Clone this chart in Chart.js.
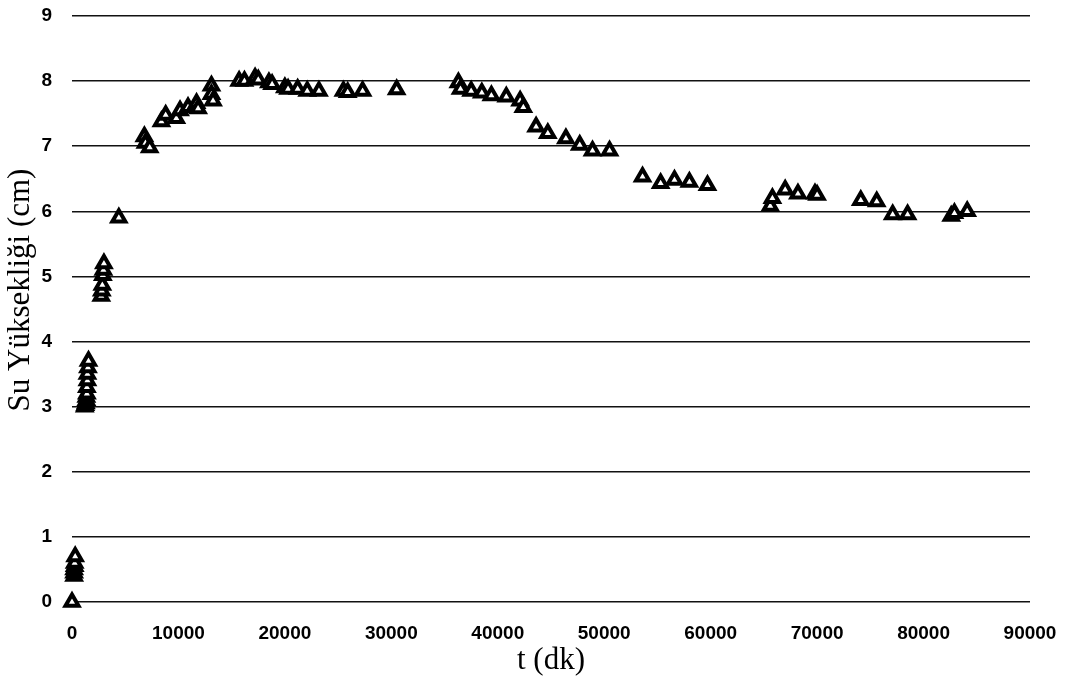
<!DOCTYPE html>
<html>
<head>
<meta charset="utf-8">
<script src="https://cdn.jsdelivr.net/npm/chart.js@4/dist/chart.umd.min.js"></script>
<style>
  html, body { margin: 0; padding: 0; background: #ffffff; }
  #wrap { width: 1075px; height: 690px; position: relative; }
</style>
</head>
<body>
<div id="wrap"><canvas id="c" width="1075" height="690"></canvas></div>
<script>
// time (minutes) and water height (cm)
const tValues = [
  0,
  200, 200, 200, 250, 250, 300,
  1200, 1250, 1300, 1350, 1350, 1400, 1400, 1450, 1450, 1500, 1550,
  2750, 2800, 2850, 2900, 2950, 3000,
  4400,
  6800, 6900, 7300,
  8400, 8800, 9800, 10150,
  10900, 11700, 11850,
  13100, 13100, 13250,
  15700, 16200, 17200, 17500, 18500, 18800, 20000, 20300, 21200, 22100, 23200,
  25500, 25900, 27300,
  30500,
  36300, 36500, 37500, 38500, 39400, 40800, 42100, 42400, 43600, 44700, 46400, 47700, 48900, 50500,
  53600, 55300, 56600, 58000, 59700,
  65600, 65800, 67000, 68200, 69800, 70000,
  74100, 75600, 77100, 78500, 82600, 82900, 84100
];
const hValues = [
  0.0,
  0.4, 0.45, 0.5, 0.55, 0.6, 0.7,
  3.0, 3.02, 3.05, 3.1, 3.15, 3.2, 3.3, 3.4, 3.5, 3.6, 3.7,
  4.7, 4.78, 4.87, 5.02, 5.1, 5.2,
  5.9,
  7.15, 7.05, 6.98,
  7.38, 7.48, 7.43, 7.55,
  7.6, 7.66, 7.58,
  7.93, 7.8, 7.7,
  8.0, 8.0, 8.05, 8.02, 7.98, 7.95, 7.9, 7.88, 7.88, 7.85, 7.85,
  7.85, 7.83, 7.85,
  7.87,
  7.98, 7.88, 7.85, 7.82, 7.78, 7.76, 7.7, 7.6, 7.3, 7.2, 7.12, 7.02, 6.93, 6.93,
  6.53, 6.43, 6.48, 6.45, 6.4,
  6.08, 6.2, 6.33, 6.27, 6.27, 6.25,
  6.17, 6.15, 5.95, 5.95, 5.93, 5.97, 6.0
];
const xTicks = [0, 10000, 20000, 30000, 40000, 50000, 60000, 70000, 80000, 90000];
const yTicks = [0, 1, 2, 3, 4, 5, 6, 7, 8, 9];
const xTitle = 't (dk)';
const yTitle = 'Su Yüksekliği (cm)';

const points = tValues.map((t, i) => ({ x: t, y: hValues[i] }));

const tickFont = { family: '"Liberation Sans", Arial, sans-serif', size: 19, weight: 'bold' };
const titleFont = { family: '"Liberation Serif", "Times New Roman", serif', size: 31, weight: 'normal' };

// y-axis title drawn slightly above the plot centre, as in the reference
const yTitlePlugin = {
  id: 'yTitle',
  afterDraw(chart) {
    const ctx = chart.ctx;
    const area = chart.chartArea;
    ctx.save();
    ctx.translate(21, (area.top + area.bottom) / 2 - 19);
    ctx.rotate(-Math.PI / 2);
    ctx.font = titleFont.size + 'px ' + titleFont.family;
    ctx.fillStyle = '#000';
    ctx.textAlign = 'center';
    ctx.textBaseline = 'middle';
    ctx.fillText(yTitle, 0, 0);
    ctx.restore();
  }
};

new Chart(document.getElementById('c'), {
  type: 'scatter',
  data: {
    datasets: [{
      data: points,
      pointStyle: 'triangle',
      radius: 7.5,
      hoverRadius: 7.5,
      borderWidth: 4,
      borderColor: '#000000',
      backgroundColor: '#ffffff',
      clip: false
    }]
  },
  plugins: [yTitlePlugin],
  options: {
    responsive: false,
    animation: false,
    events: [],
    layout: { padding: { top: 16, right: 45, bottom: 0, left: 0 } },
    plugins: { legend: { display: false }, tooltip: { enabled: false } },
    scales: {
      x: {
        type: 'linear',
        min: xTicks[0],
        max: xTicks[xTicks.length - 1],
        afterBuildTicks: (s) => { s.ticks = xTicks.map(v => ({ value: v })); },
        afterFit: (s) => { s.height = 88; s.paddingLeft = 0; s.paddingRight = 0; },
        grid: { display: false, drawTicks: false },
        border: { display: false },
        ticks: {
          color: '#000',
          font: tickFont,
          padding: 20,
          maxRotation: 0,
          autoSkip: false,
          callback: (v) => String(v)
        },
        title: { display: true, text: xTitle, color: '#000', font: titleFont, padding: { top: 0, bottom: 11 } }
      },
      y: {
        type: 'linear',
        min: yTicks[0],
        max: yTicks[yTicks.length - 1],
        afterBuildTicks: (s) => { s.ticks = yTicks.map(v => ({ value: v })); },
        afterFit: (s) => { s.width = 72; s.paddingTop = 0; s.paddingBottom = 0; },
        grid: { color: '#111111', lineWidth: 1.6, drawTicks: false },
        border: { display: false },
        ticks: {
          color: '#000',
          font: tickFont,
          padding: 20,
          callback: (v) => String(v)
        },
        title: { display: false, text: yTitle }
      }
    }
  }
});
</script>
</body>
</html>
